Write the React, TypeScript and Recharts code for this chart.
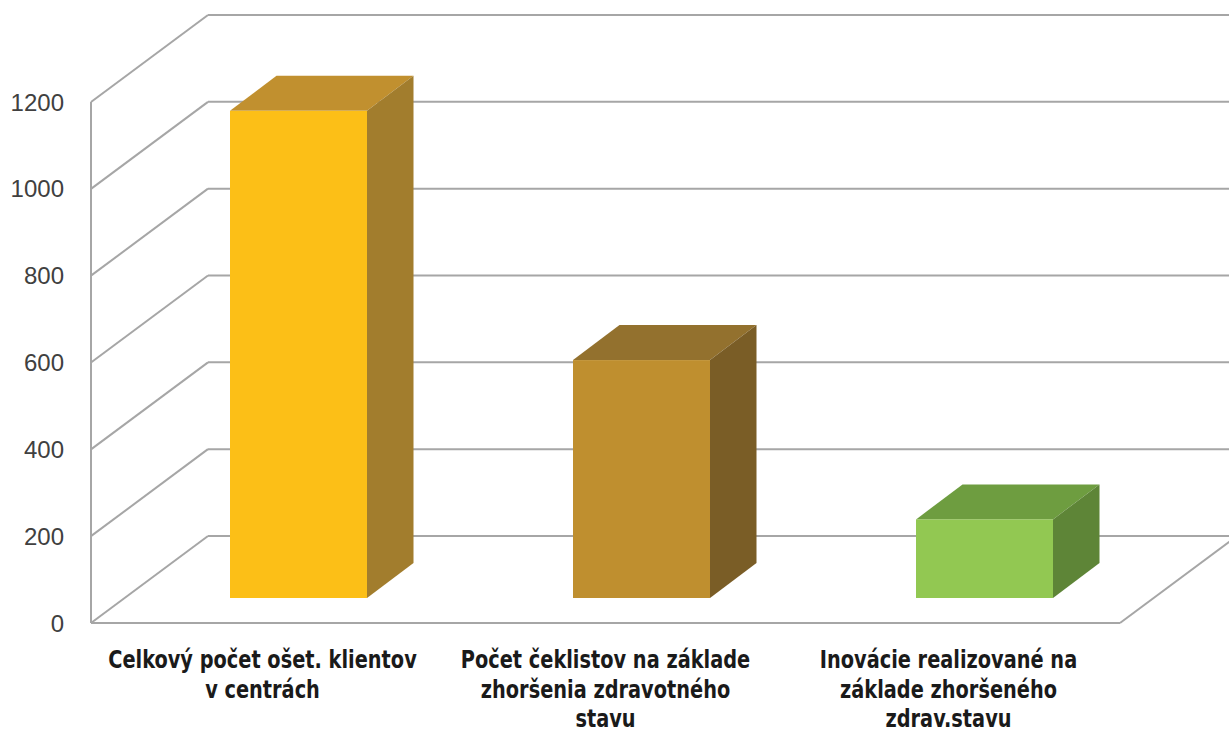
import { Bar, BarChart, CartesianGrid, XAxis, YAxis } from "recharts";

const CATEGORIES = [
  "Celkový počet ošet. klientov v centrách",
  "Počet čeklistov na základe zhoršenia zdravotného stavu",
  "Inovácie realizované na základe zhoršeného zdrav.stavu",
];
const LABEL_LINES = [
  ["Celkový počet ošet. klientov", "v centrách"],
  ["Počet čeklistov na základe", "zhoršenia zdravotného", "stavu"],
  ["Inovácie realizované na", "základe zhoršeného", "zdrav.stavu"],
];
const VALUES = [1122, 548, 181];
const Y_TICKS = [0, 200, 400, 600, 800, 1000, 1200];

const GRID = "#a6a6a6";
const TICK = "#404040";
const LABEL = "#1a1a1a";
const BOX_COLORS = [
  { front: "#fcbf17", top: "#c1902f", side: "#a27d2d" },
  { front: "#bf8f2f", top: "#93712e", side: "#7a5d26" },
  { front: "#92c852", top: "#6e9d40", side: "#5e8537" },
];

// perspective offsets (wall depth, bar position in depth, bar depth)
const WALL_DX = 117;
const WALL_DY = 87;
const BAR_DX = 36;
const BAR_DY = 25;
const TOP_DX = 46.5;
const TOP_DY = 35;

const rows = CATEGORIES.map((name, i) => ({ name, value: VALUES[i], idx: i }));

function wallLine(props: any) {
  const { x1, y1, x2, index } = props;
  const bottom = props.y !== undefined && props.height !== undefined ? props.y + props.height : null;
  const isFloor = bottom !== null && Math.abs(y1 - bottom) < 1;
  return (
    <g key={`wall-${index}-${y1}`}>
      <line x1={x1} y1={y1} x2={x1 + WALL_DX} y2={y1 - WALL_DY} stroke={GRID} strokeWidth={2} />
      <line x1={x1 + WALL_DX} y1={y1 - WALL_DY} x2={x2 + WALL_DX} y2={y1 - WALL_DY} stroke={GRID} strokeWidth={2} />
      {isFloor && <line x1={x2} y1={y1} x2={x2 + WALL_DX} y2={y1 - WALL_DY} stroke={GRID} strokeWidth={2} />}
    </g>
  );
}

function Box(props: any) {
  const { x, y, width, height, index } = props;
  const c = BOX_COLORS[index % BOX_COLORS.length];
  const fx = x + BAR_DX;
  const fy = y - BAR_DY;
  const r = fx + width;
  const b = fy + height;
  return (
    <g>
      <polygon
        points={`${fx},${fy} ${fx + TOP_DX},${fy - TOP_DY} ${r + TOP_DX},${fy - TOP_DY} ${r},${fy}`}
        fill={c.top}
      />
      <polygon
        points={`${r},${fy} ${r + TOP_DX},${fy - TOP_DY} ${r + TOP_DX},${b - TOP_DY} ${r},${b}`}
        fill={c.side}
      />
      <rect x={fx} y={fy} width={width} height={height} fill={c.front} />
    </g>
  );
}

// Excel's condensed bold labels: narrower font, slightly stretched vertically
function CategoryTick(props: any) {
  const { x, y, index } = props;
  const lines = LABEL_LINES[index] || [];
  return (
    <g>
      {lines.map((l, i) => (
        <text
          key={i}
          transform={`translate(${x},${y + 45 + i * 29.5}) scale(1,1.14)`}
          textAnchor="middle"
          fill={LABEL}
          fontSize={21.5}
          fontWeight="bold"
          fontFamily="'Liberation Sans Narrow', 'DejaVu Sans Condensed', 'Arial Narrow', sans-serif"
        >
          {l}
        </text>
      ))}
    </g>
  );
}

export default function App() {
  return (
    <div style={{ position: "absolute", left: 0, top: 0, width: 1229, height: 731, background: "#fff" }}>
      <BarChart width={1229} height={731} data={rows} margin={{ top: 102, right: 109, left: 31, bottom: 8 }}>
        <CartesianGrid vertical={false} horizontal={wallLine} />
        <XAxis
          dataKey="name"
          interval={0}
          height={100}
          axisLine={{ stroke: GRID, strokeWidth: 2 }}
          tickLine={false}
          tickSize={0}
          tickMargin={0}
          tick={<CategoryTick />}
        />
        <YAxis
          domain={[0, 1200]}
          ticks={Y_TICKS}
          width={60}
          axisLine={{ stroke: GRID, strokeWidth: 2 }}
          tickLine={false}
          tickSize={0}
          tickMargin={27}
          tick={{ fill: TICK, fontSize: 24, fontFamily: "'Liberation Sans', Arial, sans-serif" }}
        />
        <Bar dataKey="value" barSize={137} shape={<Box />} isAnimationActive={false} />
      </BarChart>
    </div>
  );
}
